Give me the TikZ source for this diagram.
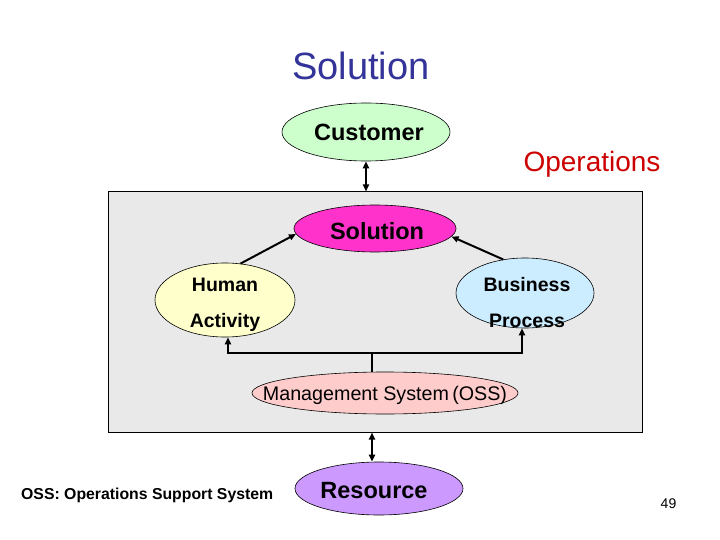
\documentclass[tikz,border=0pt]{standalone}
\usepackage{fontspec}
\setmainfont{Liberation Sans}
\usetikzlibrary{shapes.geometric,arrows.meta}
\definecolor{titleblue}{RGB}{51,51,153}
\definecolor{opred}{RGB}{204,0,0}
\definecolor{boxgray}{RGB}{233,233,233}
\definecolor{custgreen}{RGB}{204,255,204}
\definecolor{solmag}{RGB}{255,51,204}
\definecolor{humyellow}{RGB}{255,255,204}
\definecolor{busblue}{RGB}{204,236,255}
\definecolor{mgmtpink}{RGB}{255,204,204}
\definecolor{respurple}{RGB}{204,153,255}
\tikzset{
  oval/.style={ellipse, draw=black, line width=0.6pt, inner sep=0pt},
  bigtxt/.style={font=\fontsize{23.5}{27}\selectfont\bfseries},
  midtxt/.style={font=\fontsize{19.5}{36}\selectfont\bfseries, align=center},
  conn/.style={line width=2pt, -{Triangle[length=7pt,width=6pt]}},
  dconn/.style={line width=2pt, {Triangle[length=7pt,width=6pt]}-{Triangle[length=7pt,width=6pt]}},
  plain/.style={line width=2pt}
}
\begin{document}
\begin{tikzpicture}[x=1pt,y=-1pt]
\useasboundingbox (0,0) rectangle (720,540);
% title
\node[text=titleblue, font=\fontsize{38}{44}\selectfont] (title) at (361,66) {Solution};
% box
\node[draw=black, line width=1pt, fill=boxgray, minimum width=534pt, minimum height=240pt, inner sep=0pt] (box) at (375,312) {};
% ellipses
\node[oval, fill=custgreen, minimum width=168pt, minimum height=58pt] (customer) at (366,132) {};
\node[bigtxt] (custtext) at (369,132) {Customer};
\node[text=opred, font=\fontsize{28}{32}\selectfont] (ops) at (592,164) {Operations};
\node[oval, fill=solmag, minimum width=162pt, minimum height=47pt] (sol) at (375,228.5) {};
\node[bigtxt] (soltext) at (377,231) {Solution};
\node[oval, fill=humyellow, minimum width=140pt, minimum height=74pt] (human) at (225,300) {};
\node[midtxt] (humantext) at (225,305) {Human\\Activity};
\node[oval, fill=busblue, minimum width=138pt, minimum height=70pt] (business) at (525,293) {};
\node[midtxt] (bustext) at (527,302.5) {Business\\Process};
\node[oval, fill=mgmtpink, minimum width=266pt, minimum height=42pt] (mgmt) at (385,393) {};
\node[font=\fontsize{19.7}{23}\selectfont] (mgmttext) at (385,395) {Management System\,(OSS)};
\node[oval, fill=respurple, minimum width=168pt, minimum height=53pt] (resource) at (379,488.5) {};
\node[bigtxt] (restext) at (374,491) {Resource};
\node[anchor=west, font=\fontsize{15.8}{19}\selectfont\bfseries, inner sep=0pt] (note) at (21,495.5) {OSS: Operations Support System};
\node[font=\fontsize{14}{17}\selectfont] (page) at (668.5,503.5) {49};
% connectors
\coordinate (j) at (372,353);
\draw[dconn] (customer.south) -- (customer.south |- box.north);
\draw[conn] (human.67) -- (sol.184);
\draw[conn] (business.123) -- (sol.354);
\draw[plain] (j |- mgmt.north) -- (j);
\draw[conn] (j) -| ([xshift=3pt]human.south);
\draw[conn] (j) -| ([xshift=-3pt]business.south);
\draw[dconn] (j |- box.south) -- (j |- resource.north);
\end{tikzpicture}
\end{document}
